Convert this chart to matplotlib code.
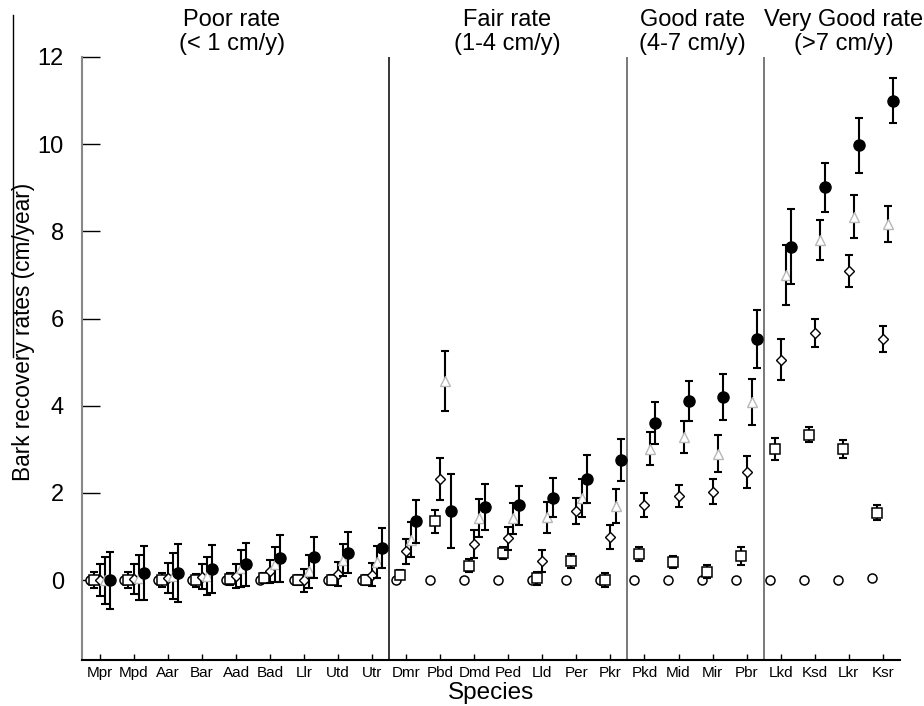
import numpy as np
import matplotlib
matplotlib.use('Agg')
from matplotlib import pyplot as plt

plt.rcParams['font.family'] = ['Liberation Sans', 'DejaVu Sans']

species = ['Mpr', 'Mpd', 'Aar', 'Bar', 'Aad', 'Bad', 'Llr', 'Utd', 'Utr',
           'Dmr', 'Pbd', 'Dmd', 'Ped', 'Lld', 'Per', 'Pkr',
           'Pkd', 'Mid', 'Mir', 'Pbr',
           'Lkd', 'Ksd', 'Lkr', 'Ksr']

# five series per species (open circle, square, diamond, triangle, filled circle)
circ_val = [0]*23 + [0.05]
circ_err = [0]*24

sq_val = [0, 0, 0, 0, 0.02, 0.05, 0, 0, 0,
          0.13, 1.35, 0.33, 0.63, 0.04, 0.44, 0,
          0.6, 0.42, 0.19, 0.56,
          3.01, 3.34, 3.01, 1.55]
sq_err = [0.19, 0.18, 0.16, 0.15, 0.14, 0.12, 0.12, 0.12, 0.12,
          0.1, 0.26, 0.15, 0.14, 0.14, 0.16, 0.16,
          0.15, 0.14, 0.15, 0.21,
          0.26, 0.17, 0.2, 0.17]

dia_val = [0, 0.03, 0.05, 0.08, 0.1, 0.2, 0, 0.14, 0.13,
           0.66, 2.32, 0.83, 0.96, 0.44, 1.59, 0.99,
           1.72, 1.93, 2.03, 2.48,
           5.06, 5.67, 7.09, 5.53]
dia_err = [0.36, 0.34, 0.35, 0.28, 0.27, 0.27, 0.26, 0.27, 0.26,
           0.28, 0.49, 0.31, 0.26, 0.26, 0.3, 0.28,
           0.28, 0.26, 0.29, 0.37,
           0.47, 0.32, 0.36, 0.29]

tri_val = [0, 0.06, 0.1, 0.1, 0.27, 0.36, 0.2, 0.46, 0.42,
           0.93, 4.56, 1.43, 1.42, 1.44, 1.89, 1.7,
           3.02, 3.29, 2.9, 4.09,
           7.0, 7.8, 8.34, 8.17]
tri_err = [0.54, 0.52, 0.53, 0.44, 0.42, 0.4, 0.37, 0.36, 0.36,
           0.4, 0.69, 0.43, 0.36, 0.36, 0.44, 0.39,
           0.38, 0.37, 0.42, 0.53,
           0.68, 0.46, 0.5, 0.42]

fill_val = [0, 0.17, 0.16, 0.26, 0.36, 0.5, 0.53, 0.63, 0.74,
            1.35, 1.58, 1.68, 1.72, 1.89, 2.32, 2.75,
            3.61, 4.11, 4.2, 5.53,
            7.65, 9.01, 9.97, 11.0]
fill_err = [0.65, 0.62, 0.67, 0.55, 0.5, 0.54, 0.47, 0.47, 0.46,
            0.5, 0.85, 0.53, 0.45, 0.45, 0.54, 0.48,
            0.48, 0.46, 0.52, 0.66,
            0.86, 0.56, 0.63, 0.52]

groups = ['Poor rate\n(< 1 cm/y)', 'Fair rate\n(1-4 cm/y)',
          'Good rate\n(4-7 cm/y)', 'Very Good rate\n(>7 cm/y)']
group_sizes = [9, 7, 4, 4]
heading_x = [3.88, 11.97, 17.4, 21.85]

fig = plt.figure(figsize=(9.24, 7.06), dpi=100)
ax = fig.add_axes([0.0887, 0.0652, 0.885, 0.8541])

x = np.arange(len(species))

series = [
    (circ_val, circ_err, -0.3, dict(marker='o', ms=6.5, mfc='white', mec='black', mew=1.1)),
    (sq_val, sq_err, -0.17, dict(marker='s', ms=6.5, mfc='white', mec='black', mew=1.1)),
    (dia_val, dia_err, 0.0, dict(marker='D', ms=5, mfc='white', mec='black', mew=1.0)),
    (tri_val, tri_err, 0.15, dict(marker='^', ms=7.5, mfc='white', mec='#b8b8b8', mew=1.0)),
    (fill_val, fill_err, 0.3, dict(marker='o', ms=8, mfc='black', mec='black', mew=1.0)),
]

for i, (v, e, off, st) in enumerate(series):
    ax.errorbar(x + off, v, yerr=e, fmt='none', ecolor='black', elinewidth=1.5,
                capsize=3, capthick=1.5, zorder=2 + 2*i)
    ax.plot(x + off, v, linestyle='none', zorder=3 + 2*i, **st)

# group separators
bounds = np.cumsum(group_sizes)[:-1] - 0.5
ax.axvline(bounds[0], color='black', lw=1.1, zorder=1)
for b in bounds[1:]:
    ax.axvline(b, color='#555555', lw=1.1, zorder=1)

# group headings
for hx, g in zip(heading_x, groups):
    ax.text(hx, 1.004, g, transform=ax.get_xaxis_transform(), ha='center',
            va='bottom', fontsize=17, linespacing=1.1)

ax.set_xlim(-0.53, 23.5)
ax.set_ylim(-1.83, 12)
ax.set_yticks([0, 2, 4, 6, 8, 10, 12])
ax.set_xticks(x)
ax.set_xticklabels(species, fontsize=11)
ax.tick_params(axis='y', direction='in', length=13, width=1, pad=13, labelsize=17, color='black')
ax.tick_params(axis='x', direction='in', length=4, width=1, pad=4)

ax.spines['top'].set_visible(False)
ax.spines['right'].set_visible(False)
ax.spines['left'].set_color('#888888')
ax.spines['left'].set_linewidth(1.5)
ax.spines['bottom'].set_linewidth(1.5)

ax.set_xlabel('Species', fontsize=17.5, labelpad=2)
ax.set_ylabel('Bark recovery rates (cm/year)', fontsize=16.3)
ax.yaxis.set_label_coords(-0.0575, 0.544)

# stray line left of the y label
fig.add_artist(plt.Line2D([13/924, 13/924], [1 - 15/706, 1 - 357/706],
                          color='black', lw=1, transform=fig.transFigure))

fig.savefig('out.png', dpi=100)
